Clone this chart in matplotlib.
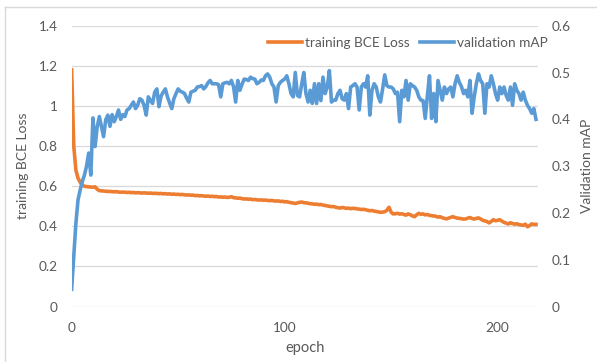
import matplotlib
matplotlib.use("Agg")
import matplotlib.pyplot as plt
from matplotlib.lines import Line2D

plt.rcParams['font.family'] = ['Lato', 'DejaVu Sans']

# training loss per epoch
trainLoss = [
    1.18, 0.80, 0.68, 0.64, 0.62, 0.605, 0.600, 0.598, 0.597, 0.596,
    0.595, 0.597, 0.585, 0.578, 0.577, 0.576, 0.575, 0.574, 0.574, 0.573,
    0.572, 0.573, 0.571, 0.570, 0.571, 0.570, 0.569, 0.570, 0.568, 0.569,
    0.567, 0.568, 0.567, 0.566, 0.567, 0.566, 0.565, 0.566, 0.564, 0.565,
    0.564, 0.563, 0.564, 0.562, 0.563, 0.561, 0.562, 0.560, 0.561, 0.559,
    0.560, 0.558, 0.559, 0.557, 0.556, 0.557, 0.555, 0.556, 0.553, 0.554,
    0.552, 0.553, 0.551, 0.550, 0.551, 0.549, 0.550, 0.548, 0.549, 0.546,
    0.547, 0.545, 0.546, 0.544, 0.545, 0.548, 0.543, 0.542, 0.540, 0.541,
    0.538, 0.536, 0.537, 0.535, 0.536, 0.533, 0.534, 0.532, 0.531, 0.532,
    0.530, 0.531, 0.529, 0.528, 0.529, 0.527, 0.526, 0.527, 0.524, 0.525,
    0.522, 0.523, 0.520, 0.518, 0.516, 0.514, 0.517, 0.520, 0.521, 0.518,
    0.517, 0.515, 0.513, 0.512, 0.510, 0.511, 0.508, 0.509, 0.506, 0.504,
    0.502, 0.500, 0.498, 0.499, 0.495, 0.493, 0.491, 0.494, 0.492, 0.490,
    0.491, 0.488, 0.490, 0.489, 0.487, 0.486, 0.484, 0.485, 0.483, 0.480,
    0.478, 0.479, 0.476, 0.474, 0.472, 0.470, 0.471, 0.473, 0.480, 0.495,
    0.470, 0.462, 0.463, 0.465, 0.461, 0.463, 0.459, 0.456, 0.462, 0.458,
    0.452, 0.448, 0.458, 0.465, 0.460, 0.462, 0.457, 0.459, 0.455, 0.453,
    0.452, 0.450, 0.446, 0.448, 0.443, 0.440, 0.437, 0.441, 0.445, 0.448,
    0.444, 0.441, 0.440, 0.438, 0.436, 0.437, 0.441, 0.444, 0.439, 0.436,
    0.440, 0.442, 0.437, 0.430, 0.427, 0.424, 0.417, 0.425, 0.433, 0.428,
    0.430, 0.433, 0.426, 0.420, 0.416, 0.412, 0.418, 0.414, 0.411, 0.413,
    0.409, 0.407, 0.405, 0.411, 0.398, 0.404, 0.412, 0.410, 0.410,
]

# validation mAP per epoch
valMap = [
    0.037, 0.107, 0.178, 0.228, 0.249, 0.267, 0.281, 0.300, 0.328, 0.281,
    0.403, 0.342, 0.384, 0.406, 0.385, 0.363, 0.399, 0.409, 0.385, 0.410,
    0.395, 0.406, 0.420, 0.400, 0.410, 0.406, 0.420, 0.423, 0.430, 0.437,
    0.423, 0.430, 0.444, 0.441, 0.430, 0.409, 0.448, 0.440, 0.434, 0.458,
    0.465, 0.427, 0.450, 0.458, 0.465, 0.448, 0.435, 0.423, 0.444, 0.455,
    0.465, 0.460, 0.458, 0.455, 0.445, 0.437, 0.458, 0.460, 0.462, 0.469,
    0.470, 0.472, 0.465, 0.470, 0.478, 0.483, 0.476, 0.476, 0.476, 0.474,
    0.448, 0.476, 0.478, 0.479, 0.476, 0.483, 0.470, 0.437, 0.483, 0.462,
    0.475, 0.486, 0.485, 0.483, 0.490, 0.487, 0.486, 0.476, 0.479, 0.484,
    0.483, 0.493, 0.497, 0.490, 0.476, 0.469, 0.437, 0.472, 0.479, 0.483,
    0.486, 0.493, 0.476, 0.455, 0.448, 0.500, 0.451, 0.448, 0.475, 0.500,
    0.455, 0.437, 0.462, 0.434, 0.476, 0.434, 0.476, 0.440, 0.490, 0.455,
    0.469, 0.504, 0.437, 0.441, 0.441, 0.455, 0.462, 0.444, 0.441, 0.455,
    0.423, 0.469, 0.472, 0.476, 0.469, 0.420, 0.469, 0.476, 0.469, 0.493,
    0.409, 0.462, 0.476, 0.469, 0.448, 0.437, 0.465, 0.495, 0.472, 0.469,
    0.469, 0.465, 0.455, 0.458, 0.395, 0.462, 0.448, 0.483, 0.441, 0.476,
    0.472, 0.469, 0.462, 0.448, 0.441, 0.440, 0.402, 0.450, 0.493, 0.402,
    0.455, 0.395, 0.483, 0.462, 0.441, 0.469, 0.455, 0.465, 0.469, 0.448,
    0.476, 0.493, 0.479, 0.470, 0.455, 0.462, 0.448, 0.483, 0.413, 0.448,
    0.476, 0.497, 0.483, 0.476, 0.413, 0.476, 0.469, 0.493, 0.476, 0.455,
    0.441, 0.469, 0.455, 0.469, 0.451, 0.441, 0.469, 0.430, 0.476, 0.462,
    0.455, 0.441, 0.458, 0.441, 0.430, 0.423, 0.413, 0.423, 0.400,
]

epochs = list(range(len(trainLoss)))
xTicks = [0, 100, 200]
lossTicks = [0, 0.2, 0.4, 0.6, 0.8, 1.0, 1.2, 1.4]
lossTickLabels = ["0", "0.2", "0.4", "0.6", "0.8", "1", "1.2", "1.4"]
mapTicks = [0, 0.1, 0.2, 0.3, 0.4, 0.5, 0.6]
mapTickLabels = ["0", "0.1", "0.2", "0.3", "0.4", "0.5", "0.6"]

orange = "#ED7D31"
blue = "#5B9BD5"
textGrey = "#595959"
gridGrey = "#D9D9D9"

fig = plt.figure(figsize=(5.97, 3.62), dpi=100)
ax = fig.add_axes([0.120, 0.153, 0.781, 0.776])
ax2 = ax.twinx()

ax.plot(epochs, trainLoss, color=orange, lw=2.6, solid_joinstyle="round")
ax2.plot(epochs, valMap, color=blue, lw=2.6, solid_joinstyle="round")

ax.set_xlim(0, 218.9)
ax.set_ylim(0, 1.4)
ax2.set_ylim(0, 0.6)
ax.set_xticks(xTicks)
ax.set_yticks(lossTicks)
ax.set_yticklabels(lossTickLabels)
ax2.set_yticks(mapTicks)
ax2.set_yticklabels(mapTickLabels)

ax.grid(axis="y", color=gridGrey, lw=0.9)
ax.set_axisbelow(True)
for a in (ax, ax2):
    for s in a.spines.values():
        s.set_visible(False)
    a.tick_params(length=0, labelsize=9.8, labelcolor=textGrey)
ax.tick_params(axis="y", pad=10)
ax2.tick_params(axis="y", pad=10)
ax.tick_params(axis="x", pad=11)

ax.set_xlabel("epoch", fontsize=10.5, color=textGrey, labelpad=5)
ax.set_ylabel("training BCE Loss", fontsize=10, color=textGrey, labelpad=7)
ax2.set_ylabel("Validation mAP", fontsize=10, color=textGrey, labelpad=7)

handles = [Line2D([], [], color=orange, lw=2.6), Line2D([], [], color=blue, lw=2.6)]
fig.legend(handles, ["training BCE Loss", "validation mAP"], loc="center left",
           bbox_to_anchor=(268 / 597, 1 - 43 / 362), ncol=2, frameon=False,
           fontsize=9.8, labelcolor=textGrey, handlelength=2.5, handletextpad=0.25,
           columnspacing=0.7, borderpad=0, borderaxespad=0)

# chart border (only top and left visible in the crop)
fig.add_artist(Line2D([5 / 597, 1], [1 - 7 / 362, 1 - 7 / 362], color=gridGrey, lw=1,
                      transform=fig.transFigure))
fig.add_artist(Line2D([5 / 597, 5 / 597], [0, 1 - 7 / 362], color=gridGrey, lw=1,
                      transform=fig.transFigure))

fig.savefig("out.png", dpi=100)
